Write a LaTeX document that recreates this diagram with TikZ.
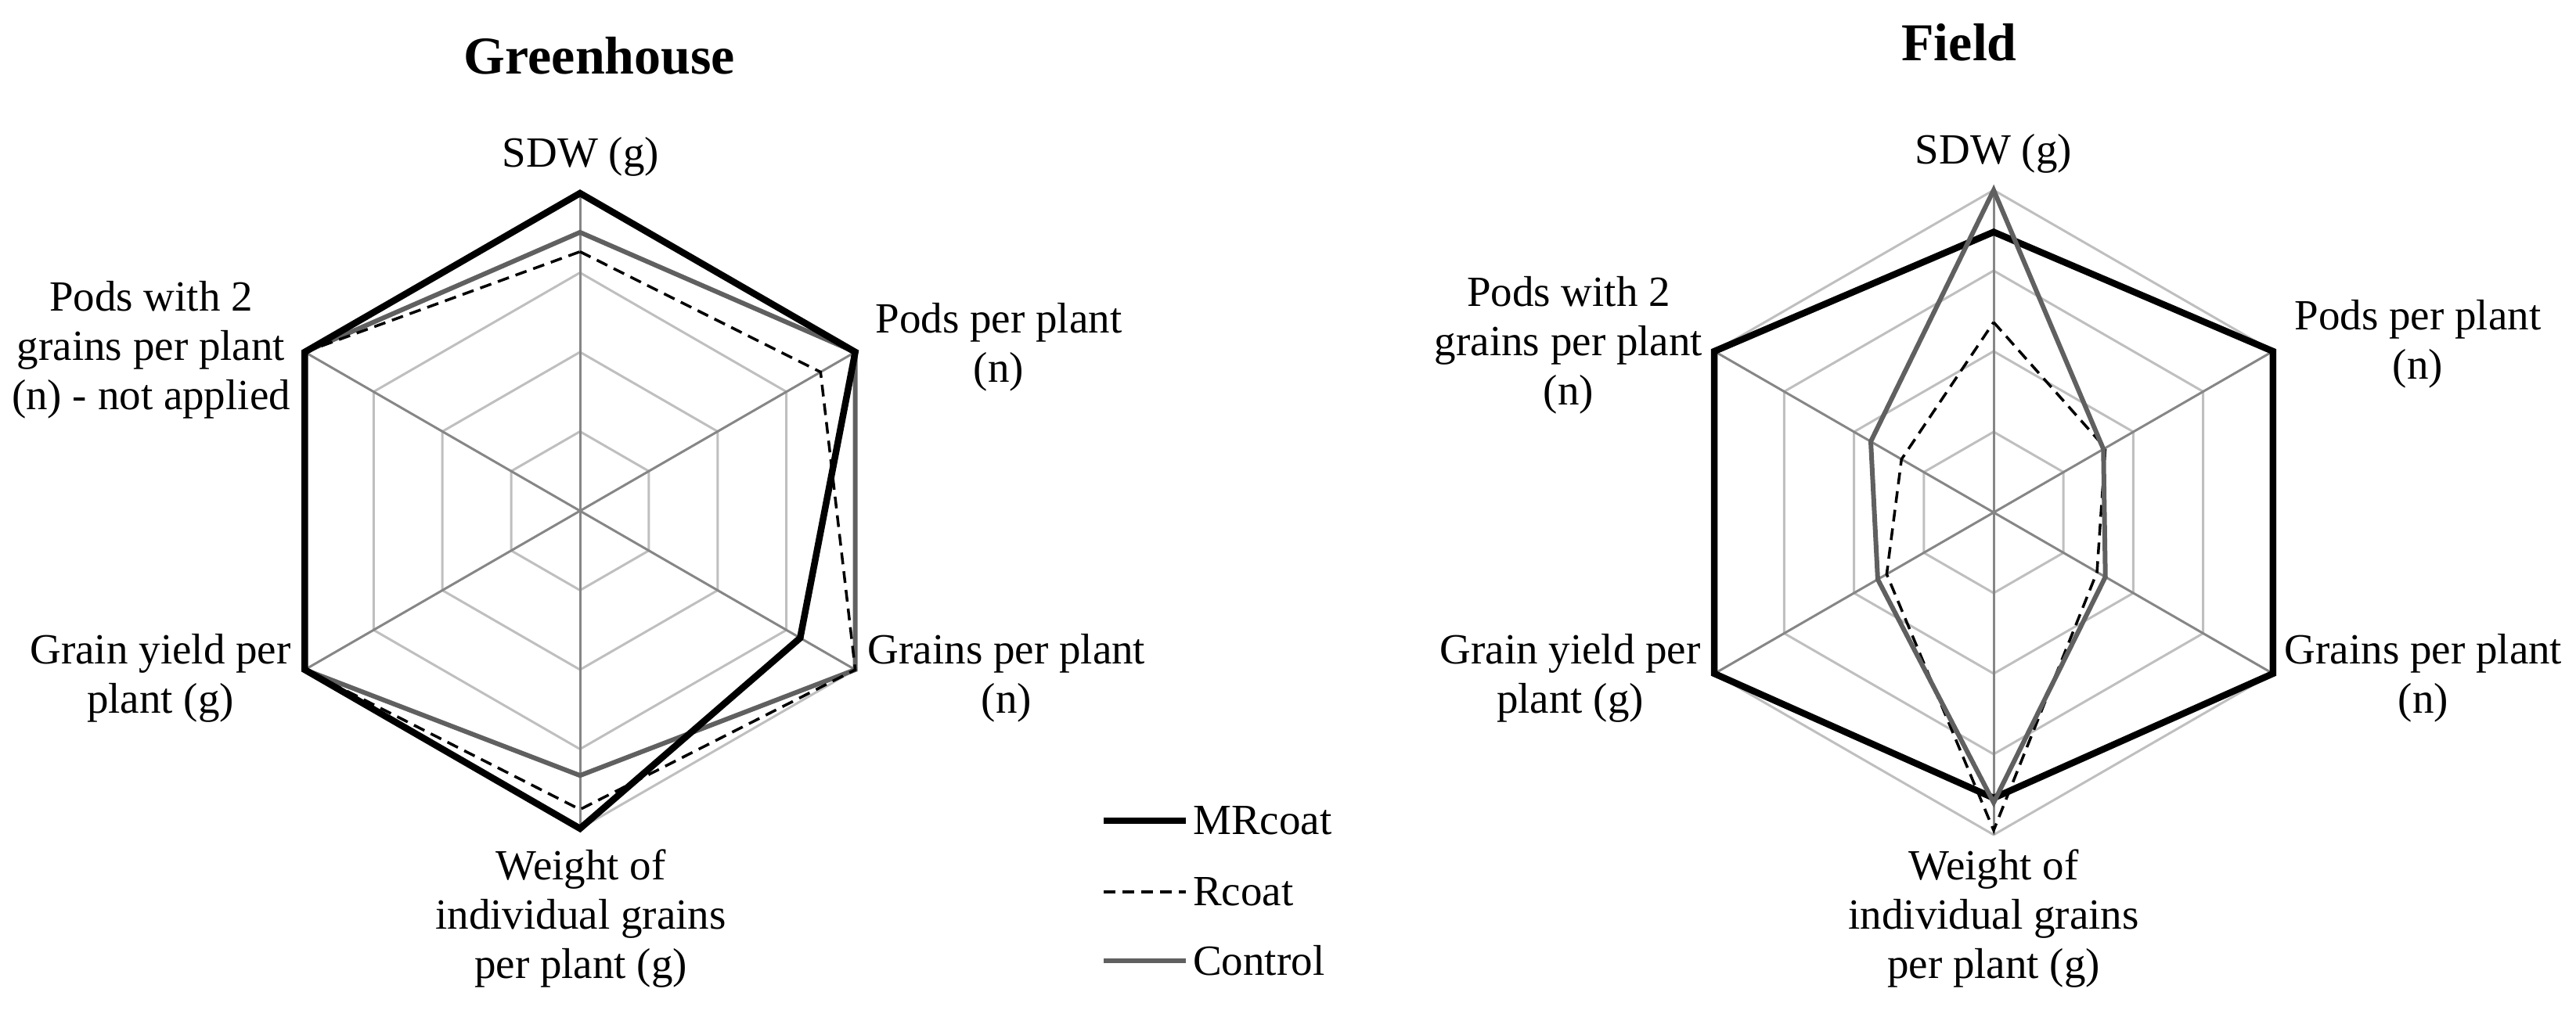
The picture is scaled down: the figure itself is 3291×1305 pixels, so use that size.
\documentclass[tikz,border=0pt]{standalone}
\usepackage{fontspec}
\setmainfont{LiberationSerif}[Extension=.ttf,UprightFont=*-Regular,BoldFont=*-Bold,ItalicFont=*-Italic,BoldItalicFont=*-BoldItalic]
\begin{document}
\begin{tikzpicture}[x=1pt,y=1pt,
  lbl/.style={align=center,font=\fontsize{55}{63}\selectfont,inner sep=0pt},
  ttl/.style={font=\fontsize{68}{76}\selectfont\bfseries,inner sep=0pt},
  ring/.style={draw={rgb,255:red,191;green,191;blue,191},line width=3pt},
  spoke/.style={draw={rgb,255:red,134;green,134;blue,134},line width=3pt},
  mrc/.style={draw=black,line width=8.5pt,line join=miter},
  rco/.style={draw=black,line width=3.5pt,dash pattern=on 15pt off 9pt},
  ctl/.style={draw={rgb,255:red,96;green,96;blue,96},line width=6pt,line join=miter}]
\useasboundingbox (0,0) rectangle (3291,1305);
\newcommand\polyline[7]{(90:#2*#1) -- (30:#3*#1) -- (-30:#4*#1) -- (-90:#5*#1) -- (-150:#6*#1) -- (150:#7*#1) -- cycle}
\newcommand\grid[1]{%
  \foreach \f in {0.25,0.5,0.75,1}{\path[ring] \polyline{#1}{\f}{\f}{\f}{\f}{\f}{\f};}
  \foreach \a in {90,30,-30,-90,-150,150}{\path[spoke] (0,0) -- (\a:#1);}}
% Greenhouse
\begin{scope}[shift={(741,652)}]
  \grid{406}
  \path[ctl] \polyline{406}{0.877}{1}{1}{0.833}{1}{1};
  \path[rco] \polyline{406}{0.816}{0.874}{1}{0.94}{1}{1};
  \path[mrc] \polyline{406}{1}{1}{0.8}{1}{1}{1};
\end{scope}
% Field
\begin{scope}[shift={(2547,650)}]
  \grid{412}
  \path[mrc] \polyline{412}{0.87}{1}{1}{0.886}{1}{1};
  \path[rco] \polyline{412}{0.59}{0.40}{0.37}{0.986}{0.383}{0.33};
  \path[ctl] \polyline{412}{1}{0.393}{0.40}{0.90}{0.415}{0.44};
\end{scope}
% titles
\node[ttl] (t1) at (766,1234) {Greenhouse};
\node[ttl] (t2) at (2503,1251) {Field};
% greenhouse labels
\node[lbl] (g1) at (742,1105) {SDW (g)};
\node[lbl] (g2) at (1276,861) {Pods per plant\\(n)};
\node[lbl] (g3) at (1286,438) {Grains per plant\\(n)};
\node[lbl] (g4) at (742,131) {Weight of\\individual grains\\per plant (g)};
\node[lbl] (g5) at (205,438) {Grain yield per\\plant (g)};
\node[lbl] (g6) at (193,858) {Pods with 2\\grains per plant\\(n) - not applied};
% field labels
\node[lbl] (f1) at (2547,1109) {SDW (g)};
\node[lbl] (f2) at (3089,865) {Pods per plant\\(n)};
\node[lbl] (f3) at (3096,438) {Grains per plant\\(n)};
\node[lbl] (f4) at (2547,131) {Weight of\\individual grains\\per plant (g)};
\node[lbl] (f5) at (2006,438) {Grain yield per\\plant (g)};
\node[lbl] (f6) at (2004,864) {Pods with 2\\grains per plant\\(n)};
% legend
\coordinate (l1a) at (1410,256); \coordinate (l1b) at (1515,256);
\coordinate (l2a) at (1410,165); \coordinate (l2b) at (1515,165);
\coordinate (l3a) at (1410,77);  \coordinate (l3b) at (1515,77);
\draw[mrc] (l1a) -- (l1b); \draw[rco] (l2a) -- (l2b); \draw[ctl] (l3a) -- (l3b);
\node[lbl,anchor=west] (m1) at (1524,256) {MRcoat};
\node[lbl,anchor=west] (m2) at (1524,165) {Rcoat};
\node[lbl,anchor=west] (m3) at (1524,77) {Control};
\end{tikzpicture}
\end{document}
